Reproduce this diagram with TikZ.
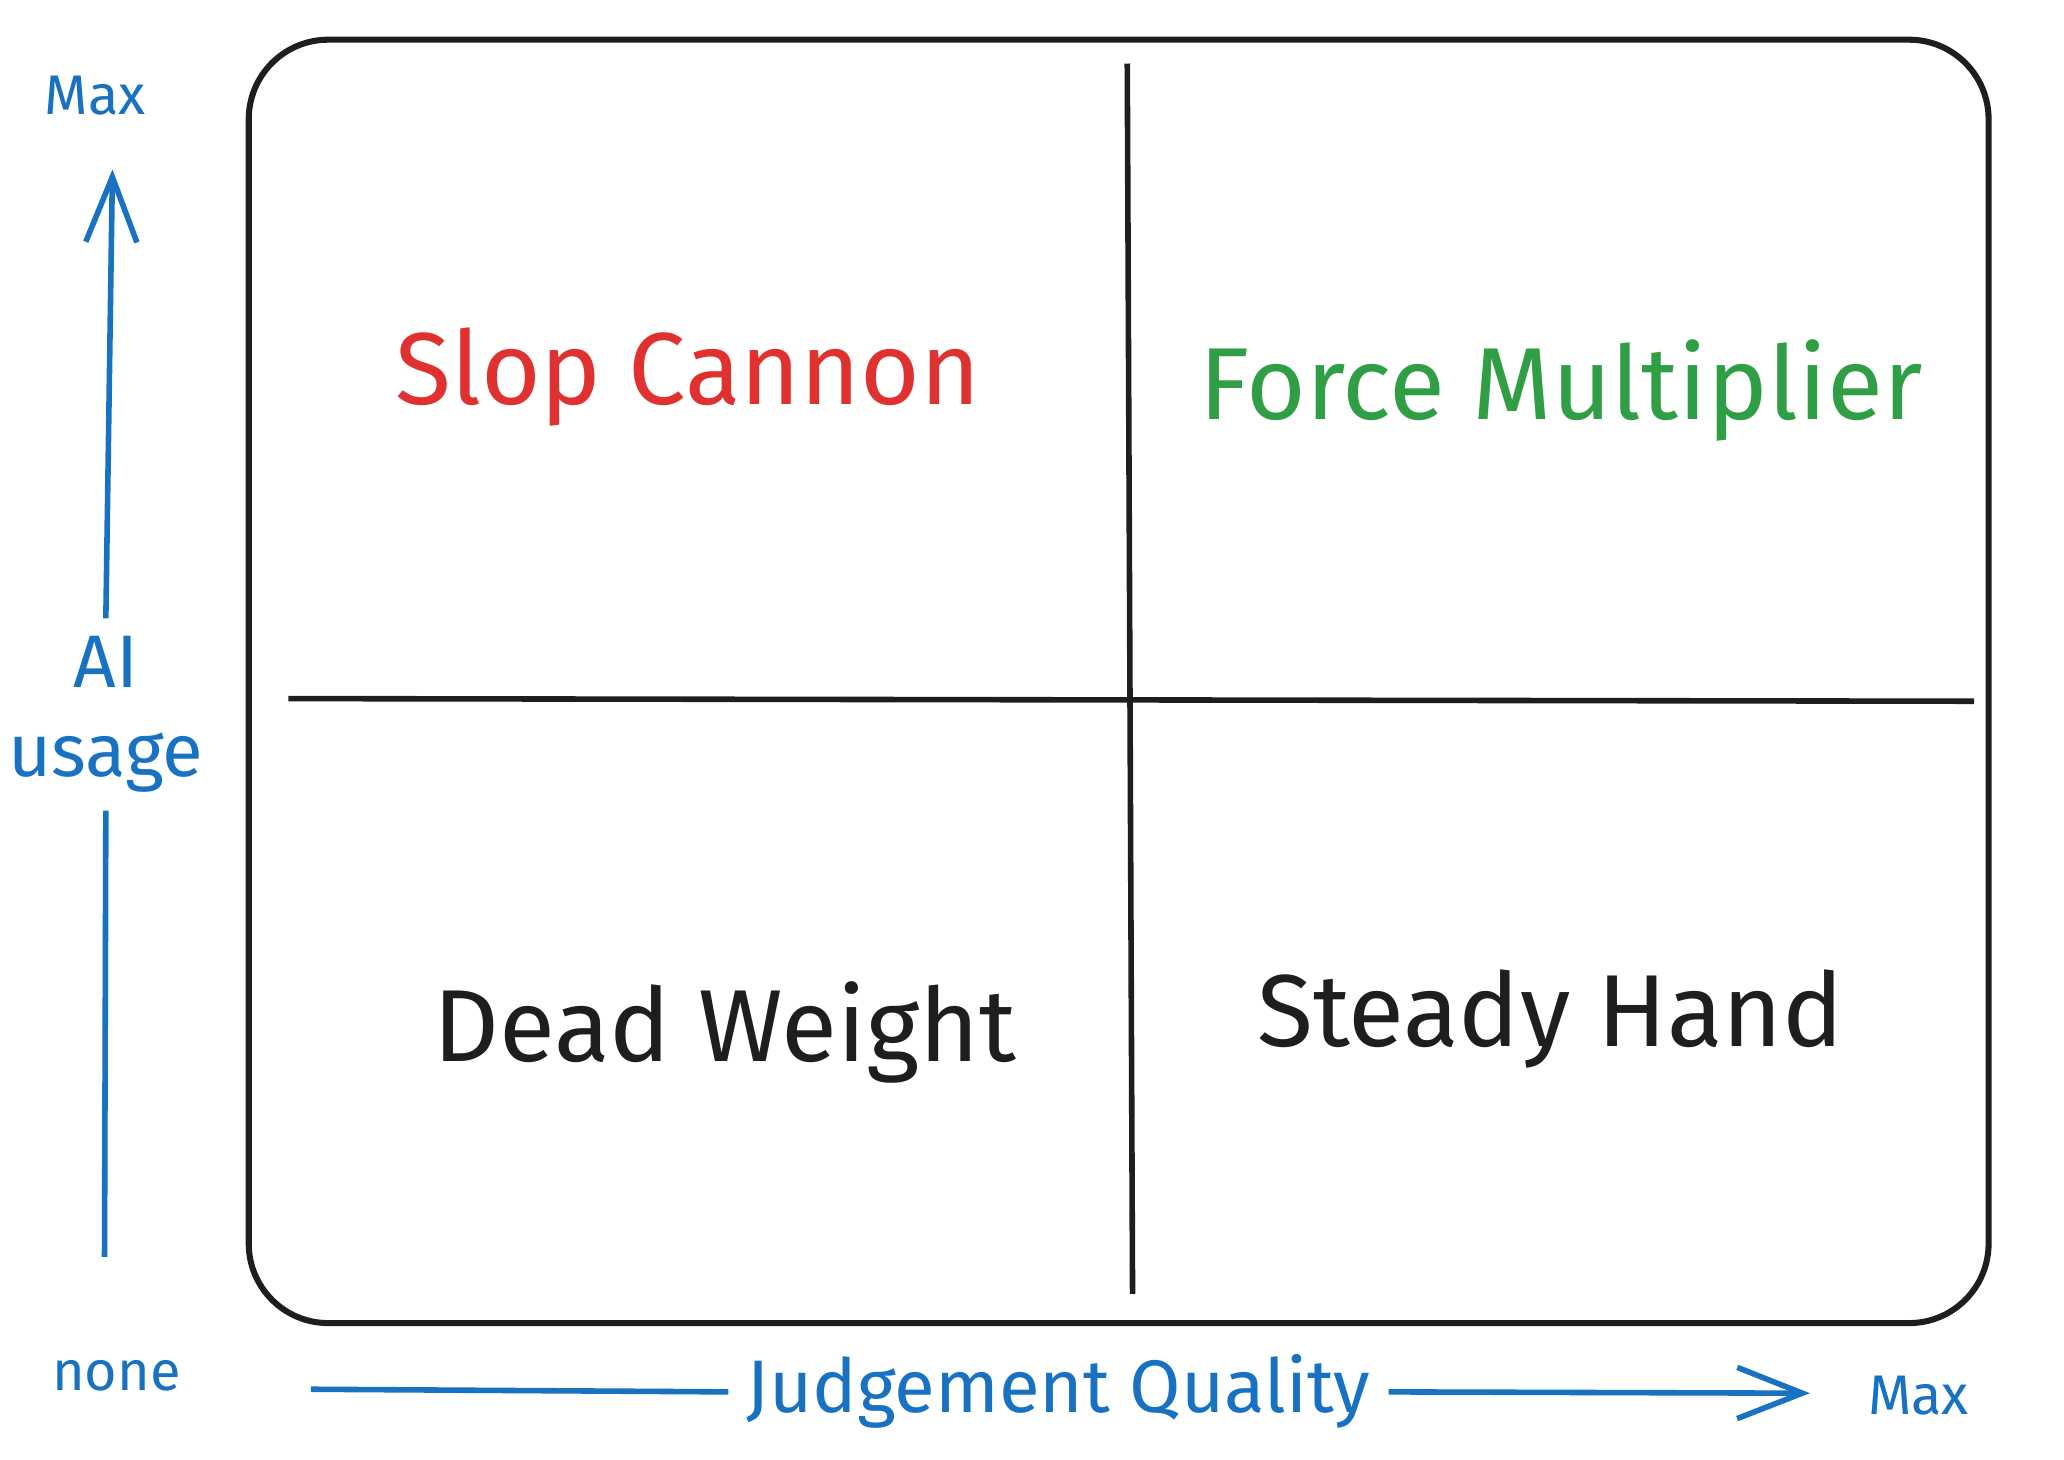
\documentclass[tikz,border=0pt]{standalone}
\usepackage{fontspec}
\setmainfont{Fira Sans}
\usetikzlibrary{arrows.meta}
\definecolor{axisblue}{HTML}{1971C2}
\definecolor{slopred}{HTML}{E03131}
\definecolor{forcegreen}{HTML}{2F9E44}
\definecolor{inkblack}{HTML}{1E1E1E}
\begin{document}
\begin{tikzpicture}[x=0.01cm,y=-0.01cm]
\useasboundingbox (0,0) rectangle (1560,1103);

\draw[inkblack,line width=1.3pt,rounded corners=0.6cm] (188,30) rectangle (1503,1000);

\begin{scope}[every node/.style={inner sep=0pt}]
	\coordinate (top) at (852,48);
	\coordinate (bottom) at (856,978);
	\coordinate (left) at (218,528);
	\coordinate (right) at (1492,530);
\end{scope}
\draw[inkblack,line width=1.2pt] (top) -- (bottom);
\draw[inkblack,line width=1.2pt] (left) -- (right);

\begin{scope}[every node/.style={font=\fontsize{22}{26}\selectfont}]
	\node[text=slopred] (slop) at (520,285) {Slop Cannon};
	\node[text=forcegreen] (force) at (1180,295) {Force Multiplier};
	\node[text=inkblack] (dead) at (548,780) {Dead Weight};
	\node[text=inkblack] (steady) at (1172,770) {Steady Hand};
\end{scope}

\begin{scope}[every node/.style={text=axisblue,font=\fontsize{16}{19}\selectfont},
every path/.style={draw=axisblue,line width=1.2pt}]
	\node (usage) at (80,540) [align=center] {AI\\usage};
	\node (judge) at (800,1052) {Judgement Quality};
	\node[font=\fontsize{12}{14}\selectfont] (ymax) at (72,72) {Max};
	\node[font=\fontsize{12}{14}\selectfont] (xmax) at (1450,1055) {Max};
	\node[font=\fontsize{12}{14}\selectfont] (none) at (88,1040) {none};
	\coordinate (ylow) at (79,950);
	\coordinate (yhigh) at (85,128);
	\coordinate (xlow) at (235,1050);
	\coordinate (xhigh) at (1368,1053);
	\path (ylow) -- (usage.south);
	\path[-{Straight Barb[length=14pt,width=11pt]}] (usage.north) -- (yhigh);
	\path (xlow) -- (judge.west);
	\path[-{Straight Barb[length=14pt,width=11pt]}] (judge.east) -- (xhigh);
\end{scope}

\end{tikzpicture}
\end{document}
